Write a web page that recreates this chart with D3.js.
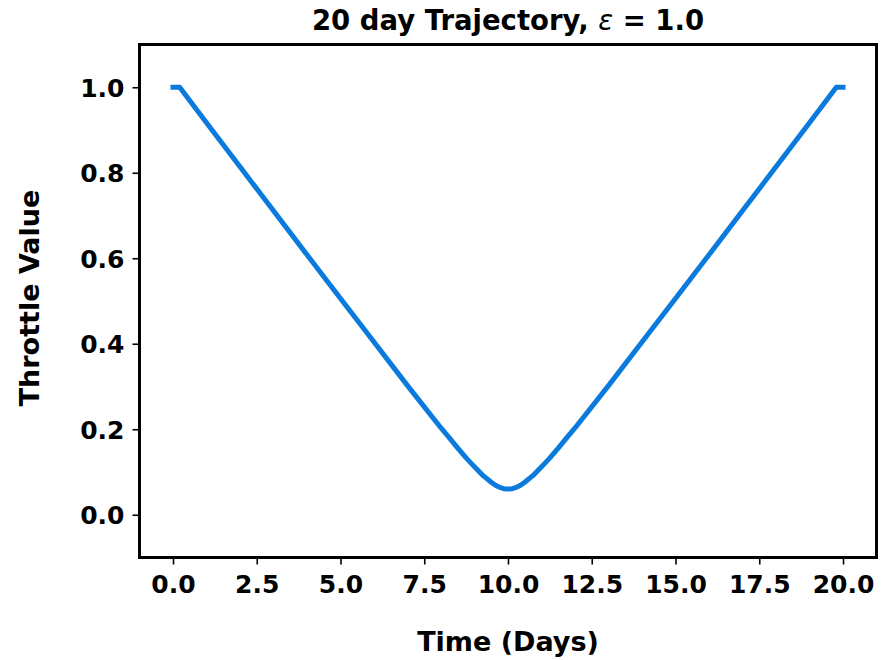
<!DOCTYPE html>
<html>
<head>
<meta charset="utf-8">
<script src="https://cdn.jsdelivr.net/npm/d3@7"></script>
<style>
  html, body { margin: 0; padding: 0; background: #fff; }
  svg { display: block; font-family: "DejaVu Sans", sans-serif; }
</style>
</head>
<body>
<svg id="chart" width="892" height="660"></svg>
<script>
// Data
const days = [0, 0.2, 1, 2, 3, 4, 5, 6, 7, 8, 8.25, 8.5, 8.75, 9, 9.25, 9.5, 9.625, 9.75, 9.875, 10,
              10.125, 10.25, 10.375, 10.5, 10.75, 11, 11.25, 11.5, 11.75, 12, 13, 14, 15, 16, 17, 18, 19, 19.8, 20];
const throttle = [1.0, 1.0, 0.917, 0.814, 0.711, 0.608, 0.506, 0.404, 0.302, 0.203, 0.180, 0.156, 0.133, 0.112, 0.092, 0.076, 0.069, 0.064, 0.061, 0.060,
                  0.061, 0.064, 0.069, 0.076, 0.092, 0.112, 0.133, 0.156, 0.180, 0.203, 0.302, 0.404, 0.506, 0.608, 0.711, 0.814, 0.917, 1.0, 1.0];
const xTicks = [0, 2.5, 5, 7.5, 10, 12.5, 15, 17.5, 20];
const yTicks = [0, 0.2, 0.4, 0.6, 0.8, 1.0];
const titleText = "20 day Trajectory, ";
const epsilonLabel = "ε";
const titleTail = " = 1.0";
const xLabel = "Time (Days)";
const yLabel = "Throttle Value";

const svg = d3.select("#chart");
const L = 139.5, R = 876.5, T = 44.5, B = 557.5;

const x = d3.scaleLinear().domain([-1, 21]).range([L, R]);
const y = d3.scaleLinear().domain([-0.1, 1.1]).range([B, T]);

// line
const pts = days.map((d, i) => [d, throttle[i]]);
const line = d3.line().x(d => x(d[0])).y(d => y(d[1])).curve(d3.curveLinear);
svg.append("path")
  .datum(pts)
  .attr("d", line)
  .attr("fill", "none")
  .attr("stroke", "#0a7bdc")
  .attr("stroke-width", 5)
  .attr("stroke-linejoin", "round")
  .attr("stroke-linecap", "square");

// axes
const xAxis = d3.axisBottom(x).tickValues(xTicks).tickFormat(d3.format(".1f")).tickSizeOuter(0).tickSize(7).tickPadding(6);
const yAxis = d3.axisLeft(y).tickValues(yTicks).tickFormat(d3.format(".1f")).tickSizeOuter(0).tickSize(7).tickPadding(6);

const gx = svg.append("g").attr("transform", `translate(0,${B})`).call(xAxis);
const gy = svg.append("g").attr("transform", `translate(${L},0)`).call(yAxis);
[gx, gy].forEach(g => {
  g.select(".domain").remove();
  g.selectAll(".tick line").attr("stroke", "#000").attr("stroke-width", 1.6);
  g.selectAll(".tick text")
    .attr("fill", "#000")
    .style("font-family", "'DejaVu Sans', sans-serif")
    .style("font-weight", "bold")
    .style("font-size", "25px");
});
gx.selectAll(".tick text").attr("dy", null).attr("y", 35);
gy.selectAll(".tick text").attr("dy", "0.36em").attr("x", -15);

// frame
svg.append("rect")
  .attr("x", L).attr("y", T)
  .attr("width", R - L).attr("height", B - T)
  .attr("fill", "none")
  .attr("stroke", "#000")
  .attr("stroke-width", 3);

// title
const title = svg.append("text")
  .attr("x", (L + R) / 2)
  .attr("y", 30)
  .attr("text-anchor", "middle")
  .style("font-size", "27.5px")
  .style("font-weight", "bold")
  .attr("fill", "#000");
title.append("tspan").text(titleText);
title.append("tspan").style("font-style", "italic").style("font-weight", "normal").text(epsilonLabel);
title.append("tspan").text(titleTail);

// axis titles
svg.append("text")
  .attr("x", (L + R) / 2)
  .attr("y", 651)
  .attr("text-anchor", "middle")
  .style("font-size", "27px")
  .style("font-weight", "bold")
  .attr("fill", "#000")
  .text(xLabel);

svg.append("text")
  .attr("transform", `translate(39,${(T + B) / 2 - 3}) rotate(-90)`)
  .attr("text-anchor", "middle")
  .style("font-size", "27px")
  .style("font-weight", "bold")
  .attr("fill", "#000")
  .text(yLabel);
</script>
</body>
</html>
